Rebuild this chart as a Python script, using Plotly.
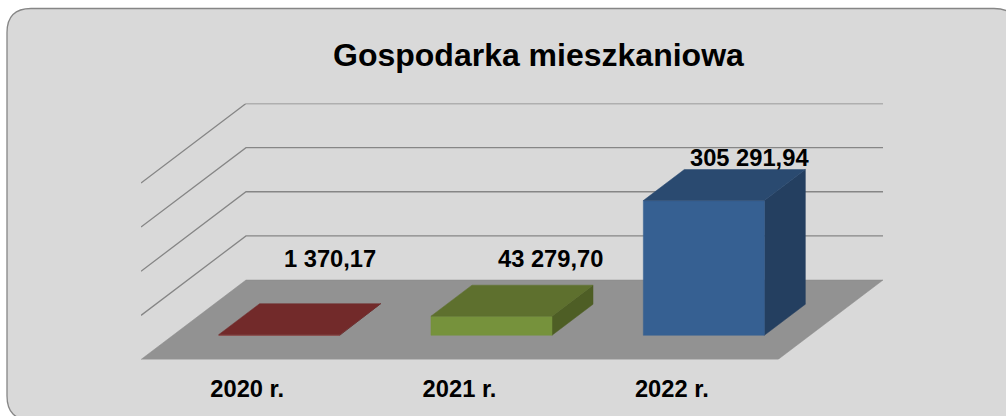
import plotly.graph_objects as go

# ---- data ----
categories = ["2020 r.", "2021 r.", "2022 r."]
values = [1370.17, 43279.70, 305291.94]
value_labels = ["1 370,17", "43 279,70", "305 291,94"]
grid_values = [100000, 200000, 300000, 400000]
title_text = "Gospodarka mieszkaniowa"

# ---- style ----
front_colors = ["#8b3230", "#76923c", "#366092"]
top_colors = ["#722a2a", "#5e702e", "#2a4a70"]
side_colors = ["#5c2120", "#4e5e25", "#243f60"]
FLOOR = "#929292"
GRID = "#868686"
FONT = "Liberation Sans, Arial, sans-serif"
W, H = 1006, 416

# oblique projection: depth 0 = front of the floor, depth 1 = back wall
PX_PER_CAT = 212.33
PX_PER_UNIT = 44.15 / 100000
DEPTH_X = 105 / PX_PER_CAT        # category units per unit depth
DEPTH_Y = 79.5 / PX_PER_UNIT      # value units per unit depth
BAR_W = 0.57
D0, D1 = 32 / 105, 73 / 105
N = len(categories)
label_shift = [(10, 60), (18, 42), (5, 27)]   # px from top centre of each bar


def P(cat, val, depth):
    return cat + depth * DEPTH_X, val + depth * DEPTH_Y


def poly(points, color, line=None, width=0.5):
    xs, ys = zip(*[P(*p) for p in points])
    return go.Scatter(x=list(xs) + [xs[0]], y=list(ys) + [ys[0]], mode="lines", fill="toself",
                      fillcolor=color, line=dict(color=line or color, width=width),
                      hoverinfo="skip", showlegend=False)


fig = go.Figure()

# floor
fig.add_trace(poly([(0, 0, 0), (N, 0, 0), (N, 0, 1), (0, 0, 1)], FLOOR, "#8a8a8a"))

# walls' gridlines
for g in grid_values:
    pts = [P(0, g, 0), P(0, g, 1), P(N, g, 1)]
    fig.add_trace(go.Scatter(x=[p[0] for p in pts], y=[p[1] for p in pts], mode="lines",
                             line=dict(color=GRID, width=1.3), hoverinfo="skip", showlegend=False))

# bars
annotations = []
for i, v in enumerate(values):
    a = i + (1 - BAR_W) / 2
    b = a + BAR_W
    fig.add_trace(poly([(b, 0, D0), (b, 0, D1), (b, v, D1), (b, v, D0)], side_colors[i]))
    fig.add_trace(poly([(a, 0, D0), (b, 0, D0), (b, v, D0), (a, v, D0)], front_colors[i]))
    fig.add_trace(poly([(a, v, D0), (b, v, D0), (b, v, D1), (a, v, D1)], top_colors[i]))
    cx, cy = P(i + 0.5, v, (D0 + D1) / 2)
    annotations.append(dict(x=cx, y=cy, xref="x", yref="y", text=f"<b>{value_labels[i]}</b>",
                            showarrow=False, xanchor="center", yanchor="middle",
                            xshift=label_shift[i][0] + 20, yshift=label_shift[i][1],
                            font=dict(family=FONT, size=23.7, color="#000000")))

annotations.append(dict(x=538 / W, y=1 - 55 / H, xref="paper", yref="paper",
                        text=f"<b>{title_text}</b>", showarrow=False, xanchor="center",
                        yanchor="middle", font=dict(family=FONT, size=32, color="#000000")))

x_right = N + DEPTH_X
y_top = 400000 + DEPTH_Y
fig.update_layout(
    width=W, height=H, autosize=False,
    margin=dict(l=0, r=0, t=0, b=0),
    paper_bgcolor="#ffffff", plot_bgcolor="rgba(0,0,0,0)",
    showlegend=False, annotations=annotations,
    xaxis=dict(domain=[141 / W, 883 / W], range=[0, x_right], tickmode="array",
               tickvals=[i + 0.5 for i in range(N)], ticktext=[f"<b>{c}</b>" for c in categories],
               showgrid=False, zeroline=False, showline=False, ticks="", ticklabelstandoff=13,
               tickfont=dict(family=FONT, size=23.7, color="#000000"), automargin=False, fixedrange=True),
    yaxis=dict(domain=[(H - 359.5) / H, (H - 103.5) / H], range=[0, y_top], visible=False, fixedrange=True),
    shapes=[dict(type="path", xref="paper", yref="paper", layer="below",
                 path=(lambda X, Y, r: (
                     f"M {X(7)} {Y(8.5 + r)} Q {X(7)} {Y(8.5)} {X(7 + r)} {Y(8.5)} "
                     f"L {X(1018 - r)} {Y(8.5)} Q {X(1018)} {Y(8.5)} {X(1018)} {Y(8.5 + r)} "
                     f"L {X(1018)} {Y(420 - r)} Q {X(1018)} {Y(420)} {X(1018 - r)} {Y(420)} "
                     f"L {X(7 + r)} {Y(420)} Q {X(7)} {Y(420)} {X(7)} {Y(420 - r)} Z"
                 ))(lambda px: px / W, lambda py: 1 - py / H, 24),
                 fillcolor="#d9d9d9", line=dict(color="#868686", width=1.3))],
)

fig.write_html("out.html", config={"displayModeBar": False},
               post_script="document.body.style.margin='0';document.body.style.overflow='hidden';")
